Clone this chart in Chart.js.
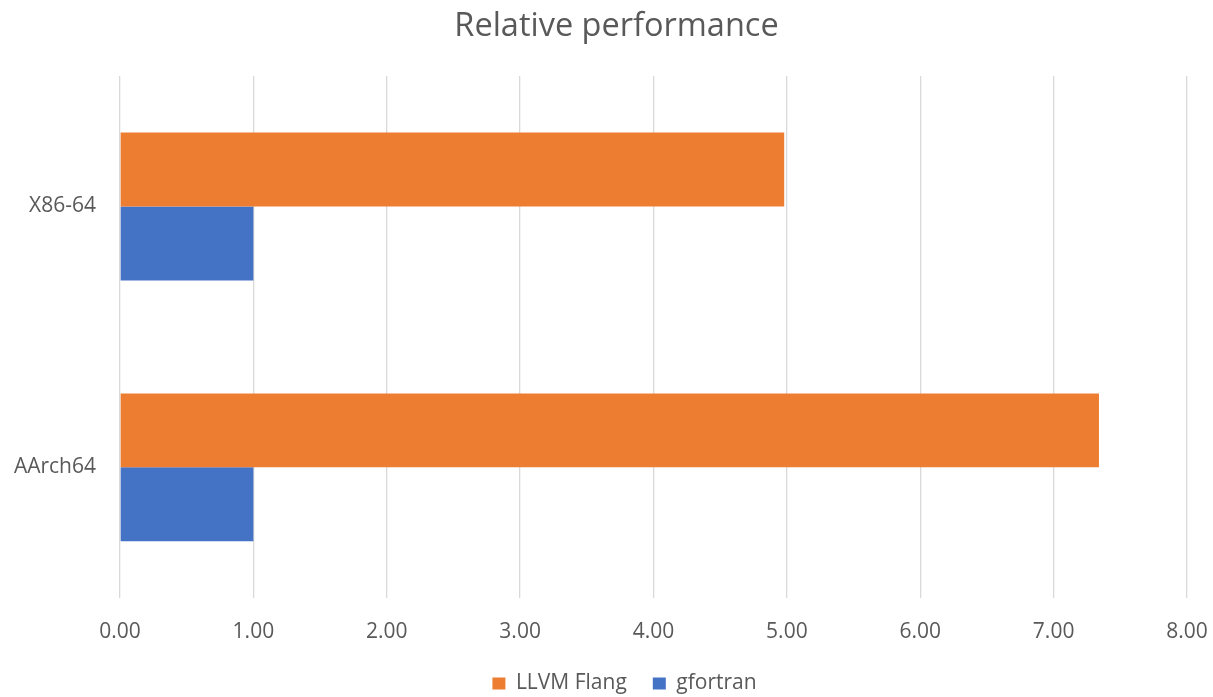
<!DOCTYPE html>
<html>
<head>
<meta charset="utf-8">
<script src="https://cdn.jsdelivr.net/npm/chart.js@4/dist/chart.umd.min.js"></script>
<style>
  html, body { margin: 0; padding: 0; background: #ffffff; overflow: hidden; }
  #wrap { width: 1213px; height: 697px; position: relative; }
</style>
</head>
<body>
<div id="wrap"><canvas id="c"></canvas></div>
<script>
const categories = ["X86-64", "AArch64"];
const seriesNames = ["LLVM Flang", "gfortran"];
const flangValues = [4.98, 7.34];
const gfortranValues = [1.00, 1.00];
const xTickMin = 0;
const xTickMax = 8;
const xTickStep = 1;
const titleText = "Relative performance";

const textColor = "#595959";
const fontFamily = "'Open Sans', 'Noto Sans', sans-serif";

const boxShift = {
  id: "boxShift",
  afterLayout(chart) {
    if (chart.legend) {
      chart.legend.left += 31;
      chart.legend.right += 31;
    }
    if (chart.titleBlock) {
      chart.titleBlock.left += 23;
      chart.titleBlock.right += 23;
    }
  }
};

new Chart(document.getElementById("c"), {
  type: "bar",
  data: {
    labels: categories,
    datasets: [
      { label: seriesNames[0], data: flangValues, backgroundColor: "#ED7D31", borderWidth: 0 },
      { label: seriesNames[1], data: gfortranValues, backgroundColor: "#4472C4", borderWidth: 0 }
    ]
  },
  plugins: [boxShift],
  options: {
    indexAxis: "y",
    responsive: true,
    maintainAspectRatio: false,
    animation: false,
    categoryPercentage: 0.567,
    barPercentage: 1.0,
    layout: { padding: { left: 0, right: 26, top: 0, bottom: -7 } },
    plugins: {
      title: {
        display: true,
        text: titleText,
        color: textColor,
        font: { family: fontFamily, size: 32.5, weight: "normal" },
        padding: { top: 7, bottom: 30 }
      },
      legend: {
        display: true,
        position: "bottom",
        labels: {
          color: textColor,
          font: { family: fontFamily, size: 21 },
          boxWidth: 13,
          boxHeight: 12,
          padding: 26
        }
      },
      tooltip: { enabled: false }
    },
    scales: {
      x: {
        type: "linear",
        min: xTickMin,
        max: xTickMax,
        ticks: {
          stepSize: xTickStep,
          color: textColor,
          font: { family: fontFamily, size: 21 },
          padding: 22,
          callback: (v) => Number(v).toFixed(2)
        },
        grid: { color: "#D9D9D9", lineWidth: 1.3, drawTicks: false },
        border: { display: false },
        afterFit: (s) => { s.height = s.height - 20; s.paddingRight = 0; s.paddingLeft = 0; }
      },
      y: {
        ticks: {
          color: textColor,
          font: { family: fontFamily, size: 21 },
          padding: 24
        },
        grid: { display: false, drawTicks: false },
        border: { display: false },
        afterFit: (s) => { s.width = 120; }
      }
    }
  }
});
</script>
</body>
</html>
